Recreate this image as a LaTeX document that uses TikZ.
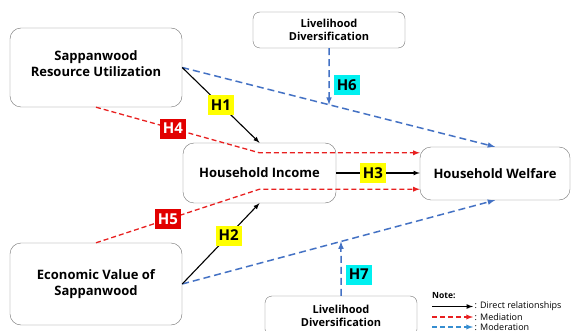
\documentclass[tikz,border=0pt]{standalone}
\usepackage{fontspec}
\setmainfont{Open Sans}
\usepackage{tikz}
\usetikzlibrary{arrows}
\definecolor{mod-blue}{RGB}{68,114,196}
\definecolor{med-red}{RGB}{232,32,32}
\definecolor{label-red}{RGB}{226,0,0}
\definecolor{label-yellow}{RGB}{255,255,0}
\definecolor{label-cyan}{RGB}{0,240,240}
\tikzstyle{block}=[draw=black!55, rounded corners=11pt, align=center, font=\bfseries\fontsize{13}{16}\selectfont]
\tikzstyle{smallblock}=[block, rounded corners=7pt, minimum width=152pt, font=\bfseries\fontsize{11}{13}\selectfont]
\tikzstyle{direct}=[-latex, line width=1.1pt]
\tikzstyle{mediation}=[-latex, line width=1.3pt, med-red, dash pattern=on 5pt off 3pt]
\tikzstyle{moderation}=[-latex, line width=1.5pt, mod-blue, dash pattern=on 7pt off 4pt]
\tikzstyle{hyp}=[inner xsep=3pt, inner ysep=2pt, minimum height=20pt, text=black, font=\bfseries\fontsize{15}{15}\selectfont]
\tikzstyle{legendtext}=[anchor=west, inner sep=1pt, text=black, font=\fontsize{9}{10}\selectfont]

\begin{document}
\begin{tikzpicture}[x=1pt,y=-1pt]
	\useasboundingbox (0,0) rectangle (572,331);
	\clip (0,0) rectangle (572,331);
	\node[block, minimum width=172pt, minimum height=79pt] (sru) at (96,67.5) {Sappanwood\\Resource Utilization\\[-9pt]};
	\node[block, minimum width=172pt, minimum height=82pt] (ev) at (96,284) {Economic Value of\\Sappanwood};
	\node[block, minimum width=153pt, minimum height=60pt] (hi) at (259.5,173) {Household Income};
	\node[block, minimum width=150pt, minimum height=53pt] (hw) at (495,173.5) {Household Welfare};
	\node[smallblock, minimum height=36pt] (ldt) at (329,30) {Livelihood\\Diversification};
	\node[smallblock, minimum height=40pt] (ldb) at (341,316) {Livelihood\\Diversification};
	\coordinate (m4) at ([yshift=-10pt]hi.north);
	\coordinate (m5) at ([yshift=14pt]hi.south);
	\draw[mediation] (sru.south) -- node[pos=.47, hyp, fill=label-red, text=white] {H4} (m4) -- (m4 -| hw.west);
	\draw[mediation] (ev.north) -- node[pos=.44, hyp, fill=label-red, text=white] {H5} (m5) -- (m5 -| hw.west);
	\draw[moderation] (sru.east) -- (hw.north);
	\draw[moderation] (ev.east) -- (hw.south);
	\draw[direct] (sru.east) -- node[hyp, fill=label-yellow] {H1} (hi.north);
	\draw[direct] (ev.east) -- node[pos=.6, hyp, fill=label-yellow] {H2} (hi.south);
	\draw[direct] (hi.east) -- node[pos=.44, hyp, fill=label-yellow] {H3} (hi.east -| hw.west);
	\draw[moderation] (ldt.south) -- node[pos=.65, anchor=west, xshift=4pt, hyp, fill=label-cyan] {H6} (intersection of ldt.south--ldt.north and sru.east--hw.north);
	\draw[moderation] (ldb.north) -- node[pos=.39, anchor=west, xshift=4pt, hyp, fill=label-cyan] {H7} (intersection of ldb.south--ldb.north and ev.east--hw.south);
	\node[anchor=west, inner sep=1pt, font=\bfseries\fontsize{8.5}{10}\selectfont] (note) at (431,296) {Note:};
	\coordinate (k1) at (432,306.5);
	\coordinate (k2) at (432,317);
	\coordinate (k3) at (432,327);
	\draw[direct, line width=1.2pt] (k1) -- ++(41,0) node[legendtext] (t1) {: Direct relationships};
	\draw[mediation] (k2) -- ++(41,0) node[legendtext] (t2) {: Mediation};
	\draw[moderation, line width=1.3pt, dash pattern=on 5pt off 3pt, draw=mod-blue!80!cyan] (k3) -- ++(41,0) node[legendtext] (t3) {: Moderation};
\end{tikzpicture}
\end{document}
